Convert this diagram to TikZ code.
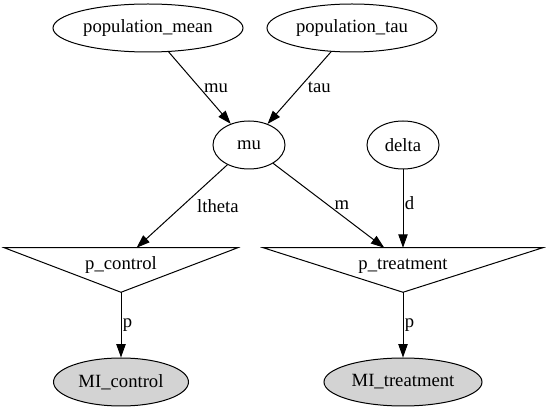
\documentclass[tikz,border=0pt]{standalone}
\usepackage{fontspec}
\setmainfont{Liberation Serif}
\usetikzlibrary{
    arrows.meta,
    shapes.geometric,
    backgrounds
}
\definecolor{ink}{RGB}{0,0,0}
\definecolor{observed}{RGB}{211,211,211}
\tikzset{
    line cap=round,
    line join=round,
    dotfont/.style={font=\fontsize{14}{16}\selectfont},
    var/.style={
        ellipse,
        draw=ink,
        line width=0.75pt,
        fill=white,
        minimum width=54pt,
        minimum height=36pt,
        inner sep=0pt,
        text=ink,
        dotfont
    },
    obs/.style={var, fill=observed},
    factor/.style={
        rectangle,
        inner sep=0pt,
        text height=16.5pt,
        text depth=4.5pt,
        text=ink,
        dotfont
    },
    factorborder/.style={
        draw=ink,
        line width=0.75pt,
        line join=miter
    },
    dep/.style={
        -{Triangle[length=10pt, width=7pt]},
        draw=ink,
        line width=0.75pt
    },
    elabel/.style={
        anchor=west,
        inner sep=1pt,
        text=ink,
        dotfont
    }
}

\begin{document}
\begin{tikzpicture}[
    x=0.75pt, y=-0.75pt,
    show background rectangle,
    background rectangle/.style={fill=white}
]
\useasboundingbox (0,0) rectangle (547,413);

% top level: population parameters
\node[var, minimum width=142.5pt] (popmean) at (148, 28) {population\_mean};
\node[var, minimum width=127.5pt] (poptau) at (352, 28) {population\_tau};

% latent variables
\node[var] (mu) at (249, 145) {mu};
\node[var] (delta) at (403, 145) {delta};

% factors (inverted triangles, apex 12pt below the node box)
\node[factor, minimum width=174.75pt] (pcontrol) at (121, 262) {p\_control};
\node[factor, minimum width=209.25pt] (ptreat) at (403, 262) {p\_treatment};
\draw[factorborder] (pcontrol.north west) -- (pcontrol.north east) -- ([yshift=-12pt]pcontrol.south) -- cycle;
\draw[factorborder] (ptreat.north west) -- (ptreat.north east) -- ([yshift=-12pt]ptreat.south) -- cycle;

% observed data
\node[obs, minimum width=101.25pt] (micontrol) at (121, 382) {MI\_control};
\node[obs, minimum width=118.5pt] (mitreat) at (403, 382) {MI\_treatment};

% edges
\draw[dep] (popmean) -- node[elabel, pos=.5, xshift=2pt] {mu} (mu);
\draw[dep] (poptau) -- node[elabel, pos=.5, xshift=5pt] {tau} (mu);
\draw[dep] (mu) -- node[elabel, pos=.5, xshift=10pt] {ltheta} (pcontrol);
\draw[dep] (mu) -- node[elabel, pos=.5, xshift=3pt] {m} (ptreat);
\draw[dep] (delta) -- node[elabel, pos=.43] {d} (ptreat);
\draw[dep] ([yshift=-12pt]pcontrol.south) -- node[elabel, pos=.5] {p} (micontrol);
\draw[dep] ([yshift=-12pt]ptreat.south) -- node[elabel, pos=.5] {p} (mitreat);
\end{tikzpicture}
\end{document}
